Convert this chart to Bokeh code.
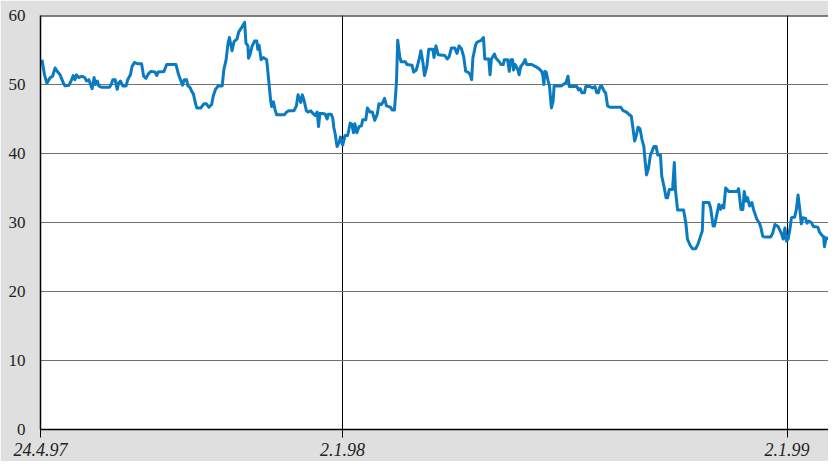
from bokeh.plotting import figure
from bokeh.models import Range1d, FixedTicker, Span
from bokeh.embed import file_html
from bokeh.resources import INLINE

# Day offsets (calendar days, axis origin near 24.4.97) and share price readings
days = [
    6.2, 8.3, 10.2, 13.0, 14.9, 17.0, 18.4, 21.1, 23.8, 25.2, 28.4, 30.6, 31.9, 33.3, 34.6,
    36.5, 38.7, 41.4, 42.8, 44.7, 46.3, 47.4, 49.0, 50.1, 51.7, 52.8, 55.0, 57.7, 61.7, 63.1,
    64.4, 66.3, 68.0, 69.1, 70.7, 72.6, 75.3, 76.6, 78.8, 80.2, 82.1, 84.8, 88.0, 89.7, 91.6,
    93.4, 95.6, 98.9, 100.5, 101.6, 106.4, 108.6, 113.2,
    116.2, 118.4, 120.3, 121.6, 123.0, 124.9, 126.0, 127.6, 129.2, 130.6, 131.9, 133.3, 136.5,
    139.3, 141.2, 143.3, 145.5, 146.8, 148.7, 150.9, 154.2, 155.5, 157.4, 159.0, 160.1, 162.3,
    163.9, 166.4, 167.7, 169.9, 172.6, 173.7, 175.3, 175.8, 177.2, 178.6, 180.7, 182.6, 183.4,
    184.5, 186.1, 188.0, 190.7, 192.6, 194.0, 194.8, 196.2, 197.5, 198.9, 205.1, 207.0, 208.9,
    213.2, 215.1, 216.5, 218.7, 220.0, 221.4,
    223.3, 224.6, 226.8, 228.7, 230.6, 232.2, 233.3, 234.4, 236.8, 238.7, 240.3, 241.4, 243.6,
    245.0, 245.8, 246.9, 248.5, 250.4, 251.2, 253.1, 255.0, 257.2, 259.3, 260.7, 262.0, 263.1,
    264.7, 266.6, 268.5, 269.6, 272.1, 273.4, 275.6, 277.5, 279.4, 281.5, 282.9, 284.8, 286.4,
    287.5, 289.1, 291.0, 292.4, 293.7, 295.6, 296.4, 297.3, 298.3, 300.0, 301.1, 304.6, 305.9,
    310.0, 311.4, 313.5, 315.4, 317.3, 318.9, 320.3, 322.2, 323.8, 327.1,
    328.1, 329.7, 331.6, 337.0, 338.9, 340.5, 342.4, 345.1, 347.0, 348.7, 350.6, 352.5, 354.1,
    356.0, 357.9, 359.0, 360.0, 362.2, 363.3, 365.5, 366.8, 368.7, 369.8, 373.0, 374.1, 375.2,
    377.7, 379.0, 381.7, 383.1, 385.0, 385.8, 388.5, 389.9, 391.2, 392.6, 393.4, 394.7, 396.6,
    398.0, 399.3, 401.2, 402.9, 404.2, 408.3, 411.5, 414.2, 416.4, 417.5, 418.3, 419.1, 420.2,
    421.8, 422.9, 424.5, 425.9, 426.7, 432.7,
    436.5, 438.1, 439.2, 445.4, 446.8, 448.1, 449.5, 451.6, 452.7, 456.3, 458.2, 460.3, 461.7,
    463.0, 464.4, 465.7, 467.9, 469.0, 470.6, 472.5, 481.5, 483.4, 486.1, 488.0, 490.1, 491.5,
    492.8, 494.2, 495.6, 497.2, 498.8, 500.4, 501.5, 502.6, 504.2, 505.8, 506.9, 508.6, 510.5,
    511.8, 514.0, 515.1, 517.2, 518.6, 519.9, 521.3, 524.0, 525.4, 526.4, 528.1, 533.0, 534.8,
    536.2, 538.4,
    540.3, 543.0, 544.9, 547.1, 548.4, 549.2, 553.8, 555.2, 557.3, 558.4, 560.1, 562.0, 563.3,
    564.7, 566.0, 567.6, 570.1, 576.9, 578.2, 580.1, 581.7, 582.8, 584.4, 585.5, 587.2, 589.1,
    590.4, 593.1, 595.3, 596.4, 598.0, 599.9, 604.5, 606.1, 608.0, 610.7, 613.4, 614.8, 616.2,
    617.5, 618.9, 620.2, 621.6, 624.3, 625.6, 627.0, 628.4, 629.7, 631.1, 633.2, 634.3, 635.9,
    637.8, 639.7, 641.4, 643.3, 644.6, 646.8, 647.9, 648.7, 650.0, 652.2,
]
price = [
    53.6, 51.4, 50.2, 51.0, 51.2, 52.4, 52.0, 51.4, 50.2, 49.8, 49.9, 50.7, 51.3, 50.7, 51.4,
    51.0, 51.2, 51.0, 50.5, 50.7, 49.9, 49.4, 51.0, 50.0, 50.5, 49.8, 49.6, 49.6, 49.6, 50.0,
    50.7, 50.7, 49.3, 50.2, 50.5, 49.8, 49.8, 50.7, 51.4, 52.6, 53.2, 53.0, 53.0, 51.2, 50.9,
    51.5, 51.9, 51.8, 51.3, 51.8, 51.9, 52.9, 52.9,
    52.9, 51.4, 50.5, 49.9, 50.7, 50.7, 49.8, 49.6, 49.0, 48.6, 47.5, 46.6, 46.6,
    47.2, 47.2, 46.7, 47.1, 48.3, 49.3, 49.8, 49.8, 52.1, 53.6, 56.0, 56.8, 54.9,
    56.2, 56.6, 57.6, 58.2, 59.0, 56.0, 55.6, 53.8, 54.4, 55.5, 56.3, 56.3, 55.1,
    55.7, 53.6, 53.9, 53.6, 50.2, 47.6, 46.8, 47.5, 46.4, 45.6, 45.6, 46.0, 46.2,
    46.2, 46.9, 48.5, 47.4, 48.5, 47.7,
    46.2, 46.0, 46.2, 45.8, 45.5, 46.0, 43.9, 45.8, 45.8, 45.7, 45.0, 45.7, 45.7,
    45.1, 43.8, 42.9, 41.0, 41.7, 42.4, 41.2, 42.6, 42.6, 44.4, 44.2, 43.0, 44.3,
    43.0, 43.9, 44.0, 44.9, 44.9, 46.6, 46.0, 46.0, 44.8, 45.7, 47.2, 47.1, 47.5,
    48.0, 46.9, 46.8, 46.7, 46.3, 46.3, 48.1, 50.5, 56.4, 54.0, 53.3, 53.3, 52.9,
    52.8, 51.8, 52.1, 53.3, 54.9, 53.3, 51.3, 52.6, 55.1, 55.1,
    53.9, 55.6, 54.3, 54.2, 53.7, 54.0, 55.3, 55.3, 54.5, 55.6, 55.2, 54.0, 51.9,
    51.8, 51.4, 50.7, 53.8, 55.7, 56.1, 56.3, 56.4, 56.8, 53.7, 53.7, 51.4, 53.7,
    54.4, 53.8, 53.3, 52.9, 52.9, 53.6, 53.6, 51.9, 53.6, 53.6, 52.1, 52.9, 52.3,
    51.4, 52.6, 53.0, 53.6, 52.9, 52.9, 52.6, 52.3, 51.9, 51.3, 50.0, 51.9, 51.8,
    50.5, 49.8, 46.6, 47.6, 49.8, 49.8,
    50.3, 51.2, 49.7, 49.7, 49.2, 49.4, 48.8, 48.8, 49.7, 49.7, 49.5, 49.7, 48.8,
    48.8, 49.7, 49.8, 49.0, 48.8, 46.9, 46.7, 46.7, 46.2, 46.0, 45.7, 45.4, 43.6,
    41.8, 42.6, 43.8, 43.6, 42.1, 41.0, 38.8, 36.9, 37.9, 39.8, 40.2, 41.0, 41.0,
    39.8, 39.8, 36.7, 35.0, 33.6, 33.6, 34.8, 34.8, 38.7, 34.6, 31.8, 31.8, 30.0,
    27.6, 26.7,
    26.2, 26.2, 26.9, 28.1, 28.8, 32.9, 32.9, 32.1, 29.5, 29.5, 31.0, 32.6, 31.9,
    32.5, 32.1, 35.0, 34.5, 34.5, 34.9, 31.9, 31.9, 34.5, 33.1, 33.6, 32.4, 32.9,
    31.9, 30.5, 29.9, 29.3, 28.0, 27.9, 27.9, 28.4, 29.7, 29.4, 28.4, 27.6, 29.2,
    27.3, 27.6, 28.9, 30.7, 30.8, 31.9, 34.0, 31.9, 29.8, 30.7, 30.6, 29.9, 30.2,
    30.0, 29.4, 29.4, 29.3, 28.6, 28.1, 28.0, 26.5, 27.8, 27.6,
]

x_tick_days = [5, 253, 618]
x_tick_labels = ["24.4.97", "2.1.98", "2.1.99"]
y_ticks = [0, 10, 20, 30, 40, 50, 60]

p = figure(width=828, height=461, output_backend="svg", toolbar_location=None,
           x_range=Range1d(5, 652), y_range=Range1d(0, 60),
           min_border_left=40, min_border_right=0, min_border_top=15, min_border_bottom=32)

p.background_fill_color = "white"
p.border_fill_color = "#dfdfdf"
p.outline_line_color = None

p.line(days, price, line_color="#0a7bc1", line_width=3, line_join="round")

# y axis
p.yaxis.ticker = FixedTicker(ticks=y_ticks)
p.yaxis.major_tick_out = 0
p.yaxis.major_tick_in = 0
p.yaxis.minor_tick_out = 0
p.yaxis.minor_tick_in = 0
p.yaxis.major_label_standoff = 15
p.yaxis.major_label_text_font = "Liberation Serif"
p.yaxis.major_label_text_font_size = "17px"
p.yaxis.major_label_text_color = "#222222"
p.yaxis.axis_line_color = "black"
p.yaxis.axis_line_width = 1.5

# x axis
p.xaxis.ticker = FixedTicker(ticks=x_tick_days)
p.xaxis.major_label_overrides = {d: s for d, s in zip(x_tick_days, x_tick_labels)}
p.xaxis.major_tick_out = 8
p.xaxis.major_tick_in = 0
p.xaxis.minor_tick_out = 0
p.xaxis.minor_tick_in = 0
p.xaxis.major_tick_line_color = "black"
p.xaxis.major_label_standoff = 5
p.xaxis.major_label_text_font = "Liberation Serif"
p.xaxis.major_label_text_font_style = "italic"
p.xaxis.major_label_text_font_size = "18px"
p.xaxis.major_label_text_color = "#222222"
p.xaxis.axis_line_color = "black"
p.xaxis.axis_line_width = 1.5

# grids
p.ygrid.ticker = FixedTicker(ticks=y_ticks)
p.ygrid.grid_line_color = "#707070"
p.ygrid.grid_line_width = 1.2
p.xgrid.ticker = FixedTicker(ticks=x_tick_days)
p.xgrid.grid_line_color = "black"
p.xgrid.grid_line_width = 1

p.add_layout(Span(location=60, dimension="width", line_color="black", line_width=2))

open("out.html", "w").write(file_html(p, INLINE))
